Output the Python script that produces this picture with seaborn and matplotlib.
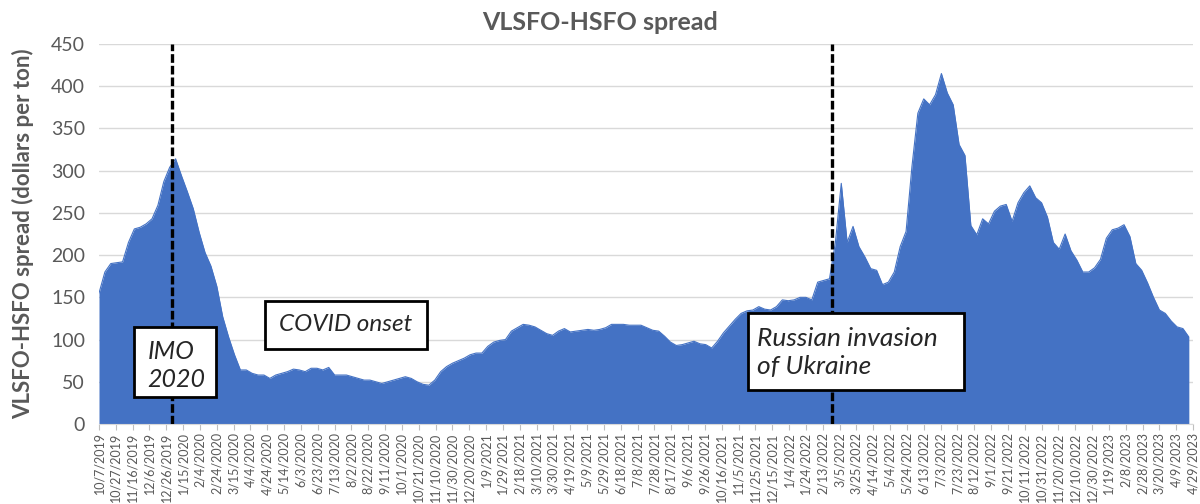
import matplotlib.pyplot as plt
from matplotlib.patches import Rectangle
import seaborn as sns
import pandas as pd

# Weekly VLSFO-HSFO spread (dollars per ton)
start_date = "2019-10-07"
end_date = "2023-04-29"
spread = [
    155, 180, 190, 191, 192, 215, 231, 233, 237, 243,
    259, 287, 304, 314, 294, 275, 255, 227, 203, 187,
    163, 127, 103, 82, 64, 64, 60, 58, 58, 54,
    58, 60, 62, 65, 64, 62, 66, 66, 64, 67,
    58, 58, 58, 56, 54, 52, 52, 50, 48, 50,
    52, 54, 56, 54, 50, 47, 46, 52, 62, 68,
    72, 75, 78, 82, 84, 84, 92, 97, 99, 100,
    110, 114, 118, 117, 115, 111, 107, 105, 110, 113,
    109, 110, 111, 112, 111, 112, 114, 118, 118, 118,
    117, 117, 117, 114, 111, 110, 104, 97, 93, 94,
    96, 98, 95, 94, 90, 98, 108, 116, 124, 131,
    134, 135, 139, 136, 135, 139, 147, 146, 147, 150,
    150, 147, 168, 170, 172, 215, 285, 215, 234, 210,
    198, 184, 182, 165, 168, 180, 210, 228, 305, 368,
    385, 378, 390, 415, 392, 378, 331, 318, 235, 224,
    243, 237, 252, 258, 260, 240, 262, 274, 282, 268,
    262, 245, 215, 207, 225, 205, 194, 180, 180, 185,
    195, 220, 230, 232, 236, 222, 190, 182, 167, 150,
    135, 131, 122, 115, 113, 103,
]

# Event markers and their labels
event_dates = ["2020-01-02", "2022-02-24"]
events = ["IMO\n2020", "COVID onset", "Russian invasion\nof Ukraine"]

df = pd.DataFrame({
    "date": pd.date_range(start_date, periods=len(spread), freq="7D"),
    "spread": spread,
})

sns.set_style("whitegrid")
plt.rcParams["font.family"] = ["Lato", "DejaVu Sans"]

blue = "#4472C4"
gray = "#595959"

fig = plt.figure(figsize=(12, 5.04), dpi=100)
ax = fig.add_axes([0.0825, 0.1587, 0.9117, 0.754])

ax.fill_between(df["date"], 0, df["spread"], color=blue, linewidth=0)
sns.lineplot(data=df, x="date", y="spread", color=blue, linewidth=0.8, ax=ax)

# Dashed event lines
for d in event_dates:
    ax.axvline(pd.Timestamp(d), color="black", linewidth=2.4,
               linestyle=(0, (2.6, 0.9)), zorder=3)

# Axes limits and ticks
ax.set_ylim(0, 450)
ax.set_yticks(range(0, 451, 50))
ax.set_xlim(pd.Timestamp(start_date), pd.Timestamp(end_date))
xticks = pd.date_range(start_date, end_date, freq="20D")
ax.set_xticks(xticks)
ax.set_xticklabels([f"{t.month}/{t.day}/{t.year}" for t in xticks],
                   rotation=90, fontsize=9, color=gray)
ax.tick_params(axis="y", labelsize=14, labelcolor=gray, length=0, pad=10)
ax.tick_params(axis="x", length=4, color="#bfbfbf", bottom=True, pad=2)

ax.grid(axis="y", color="#d9d9d9", linewidth=1)
ax.grid(axis="x", visible=False)
for side in ["top", "right", "left"]:
    ax.spines[side].set_visible(False)
ax.spines["bottom"].set_color("#d9d9d9")

ax.set_xlabel("")
ax.set_ylabel("VLSFO-HSFO spread (dollars per ton)", fontsize=16,
              fontweight="bold", color=gray, labelpad=12)
ax.set_title("VLSFO-HSFO spread", fontsize=18, fontweight="bold",
             color=gray, x=0.458, pad=10)

# Annotation boxes (axes fractions)
boxes = [(0.032, 0.072, 0.075, 0.184),
         (0.1517, 0.198, 0.148, 0.126),
         (0.593, 0.090, 0.198, 0.2025)]
for x0, y0, w, h in boxes:
    ax.add_patch(Rectangle((x0, y0), w, h, transform=ax.transAxes,
                           facecolor="white", edgecolor="black",
                           linewidth=2, zorder=5))

ax.text(0.0445, 0.153, events[0], transform=ax.transAxes, fontsize=18,
        style="italic", ha="left", va="center", zorder=6, linespacing=1.25)
ax.text(0.2258, 0.261, events[1], transform=ax.transAxes, fontsize=17.5,
        style="italic", ha="center", va="center", zorder=6)
ax.text(0.6015, 0.1875, events[2], transform=ax.transAxes, fontsize=19,
        style="italic", ha="left", va="center", zorder=6, linespacing=1.25)

fig.savefig("out.png", dpi=100)
